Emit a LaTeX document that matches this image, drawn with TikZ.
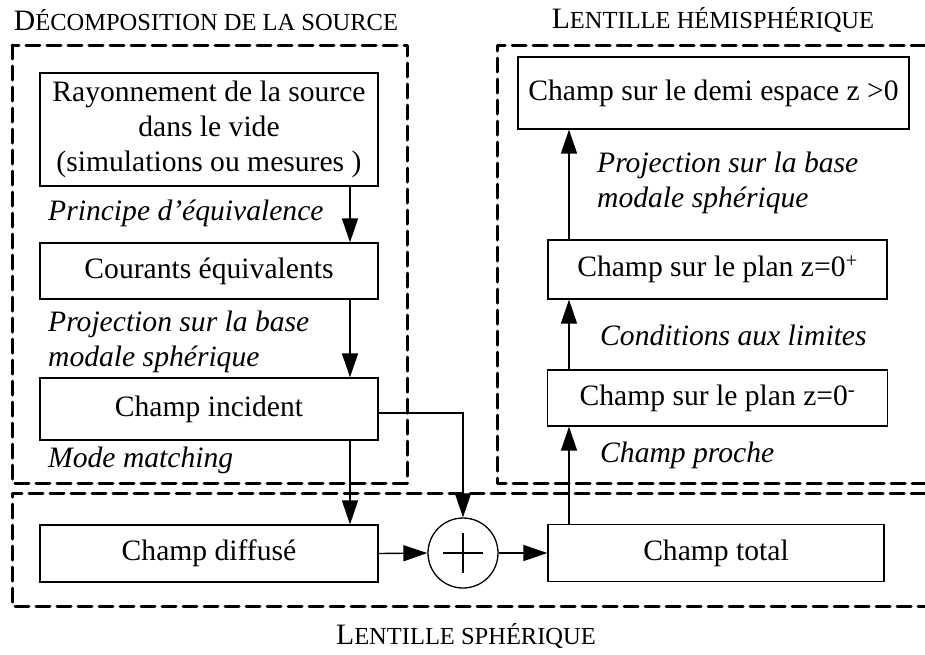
\documentclass[tikz,border=0pt]{standalone}
\usepackage{fontspec}
\setmainfont{Liberation Serif}
\usetikzlibrary{arrows.meta}
\newcommand{\smc}[1]{{\fontsize{24.5}{28}\selectfont #1}}
\begin{document}
\begin{tikzpicture}[x=1pt,y=-1pt,
  font=\fontsize{29.6}{35}\selectfont,
  blk/.style={draw, line width=1.3pt, minimum width=338pt, inner sep=0pt, align=center},
  lbl/.style={anchor=west, inner sep=0pt, font=\fontsize{29.6}{35}\selectfont\itshape, align=left},
  ttl/.style={inner sep=0pt},
  arr/.style={line width=1.4pt, -{Triangle[length=24pt,width=16pt]}},
  grp/.style={line width=3pt, dash pattern=on 14pt off 7pt, line join=round, line cap=round}]
\useasboundingbox (0,0) rectangle (925,654);

% group frames
\draw[grp] (12,45) rectangle (407,483);
\draw[grp] (925,45) -- (497,45) -- (497,483) -- (925,483);
\draw[grp] (925,493) -- (12,493) -- (12,606) -- (925,606);

% titles
\node[ttl] (t1) at (206,20) {D\smc{ÉCOMPOSITION DE LA SOURCE}};
\node[ttl] (t2) at (713,20) {L\smc{ENTILLE HÉMISPHÉRIQUE}};
\node[ttl] (t3) at (466,636) {L\smc{ENTILLE SPHÉRIQUE}};

% left column
\node[blk, minimum height=113pt] (ray) at (209,129.5) {Rayonnement de la source\\dans le vide\\(simulations ou mesures )};
\node[blk, minimum height=56pt] (cou) at (209,271) {Courants équivalents};
\node[blk, minimum height=62pt] (inc) at (209,409) {Champ incident};
\node[blk, minimum height=57pt] (dif) at (209,553.5) {Champ diffusé};

% sum
\node[draw, circle, line width=1.3pt, minimum size=70pt, inner sep=0pt] (sum) at (463,553) {};
\draw[line width=1.3pt] ([xshift=-20pt]sum.center) -- ([xshift=20pt]sum.center);
\draw[line width=1.3pt] ([yshift=-20pt]sum.center) -- ([yshift=20pt]sum.center);

% right column
\node[blk, minimum width=336pt, minimum height=57pt] (tot) at (716,553) {Champ total};
\node[blk, minimum width=340pt, minimum height=56pt] (zm) at (717.5,398) {Champ sur le plan z=0\textsuperscript{-}};
\node[blk, minimum width=339pt, minimum height=59pt] (zp) at (717.5,269.5) {Champ sur le plan z=0\textsuperscript{+}};
\node[blk, minimum width=391pt, minimum height=72pt] (dem) at (713.5,93) {Champ sur le demi espace z >0};

% labels
\node[lbl] (l1) at (48,213) {Principe d’équivalence};
\node[lbl] (l2) at (48,342) {Projection sur la base\\modale sphérique};
\node[lbl] (l3) at (48,460) {Mode matching};
\node[lbl] (l4) at (597,183) {Projection sur la base\\modale sphérique};
\node[lbl] (l5) at (600,335) {Conditions aux limites};
\node[lbl] (l6) at (600,455) {Champ proche};

% connectors
\coordinate (xl) at (350,0);
\coordinate (xr) at (569,0);
\draw[arr] (ray.south -| xl) -- (cou.north -| xl);
\draw[arr] (cou.south -| xl) -- (inc.north -| xl);
\draw[arr] (inc.south -| xl) -- (dif.north -| xl);
\draw[arr] ([yshift=-4pt]inc.east) -| (sum.north);
\draw[arr] (dif.east) -- (sum.west);
\draw[arr] (sum.east) -- (tot.west);
\draw[arr] (tot.north -| xr) -- (zm.south -| xr);
\draw[arr] (zm.north -| xr) -- (zp.south -| xr);
\draw[arr] (zp.north -| xr) -- (dem.south -| xr);
\end{tikzpicture}
\end{document}
